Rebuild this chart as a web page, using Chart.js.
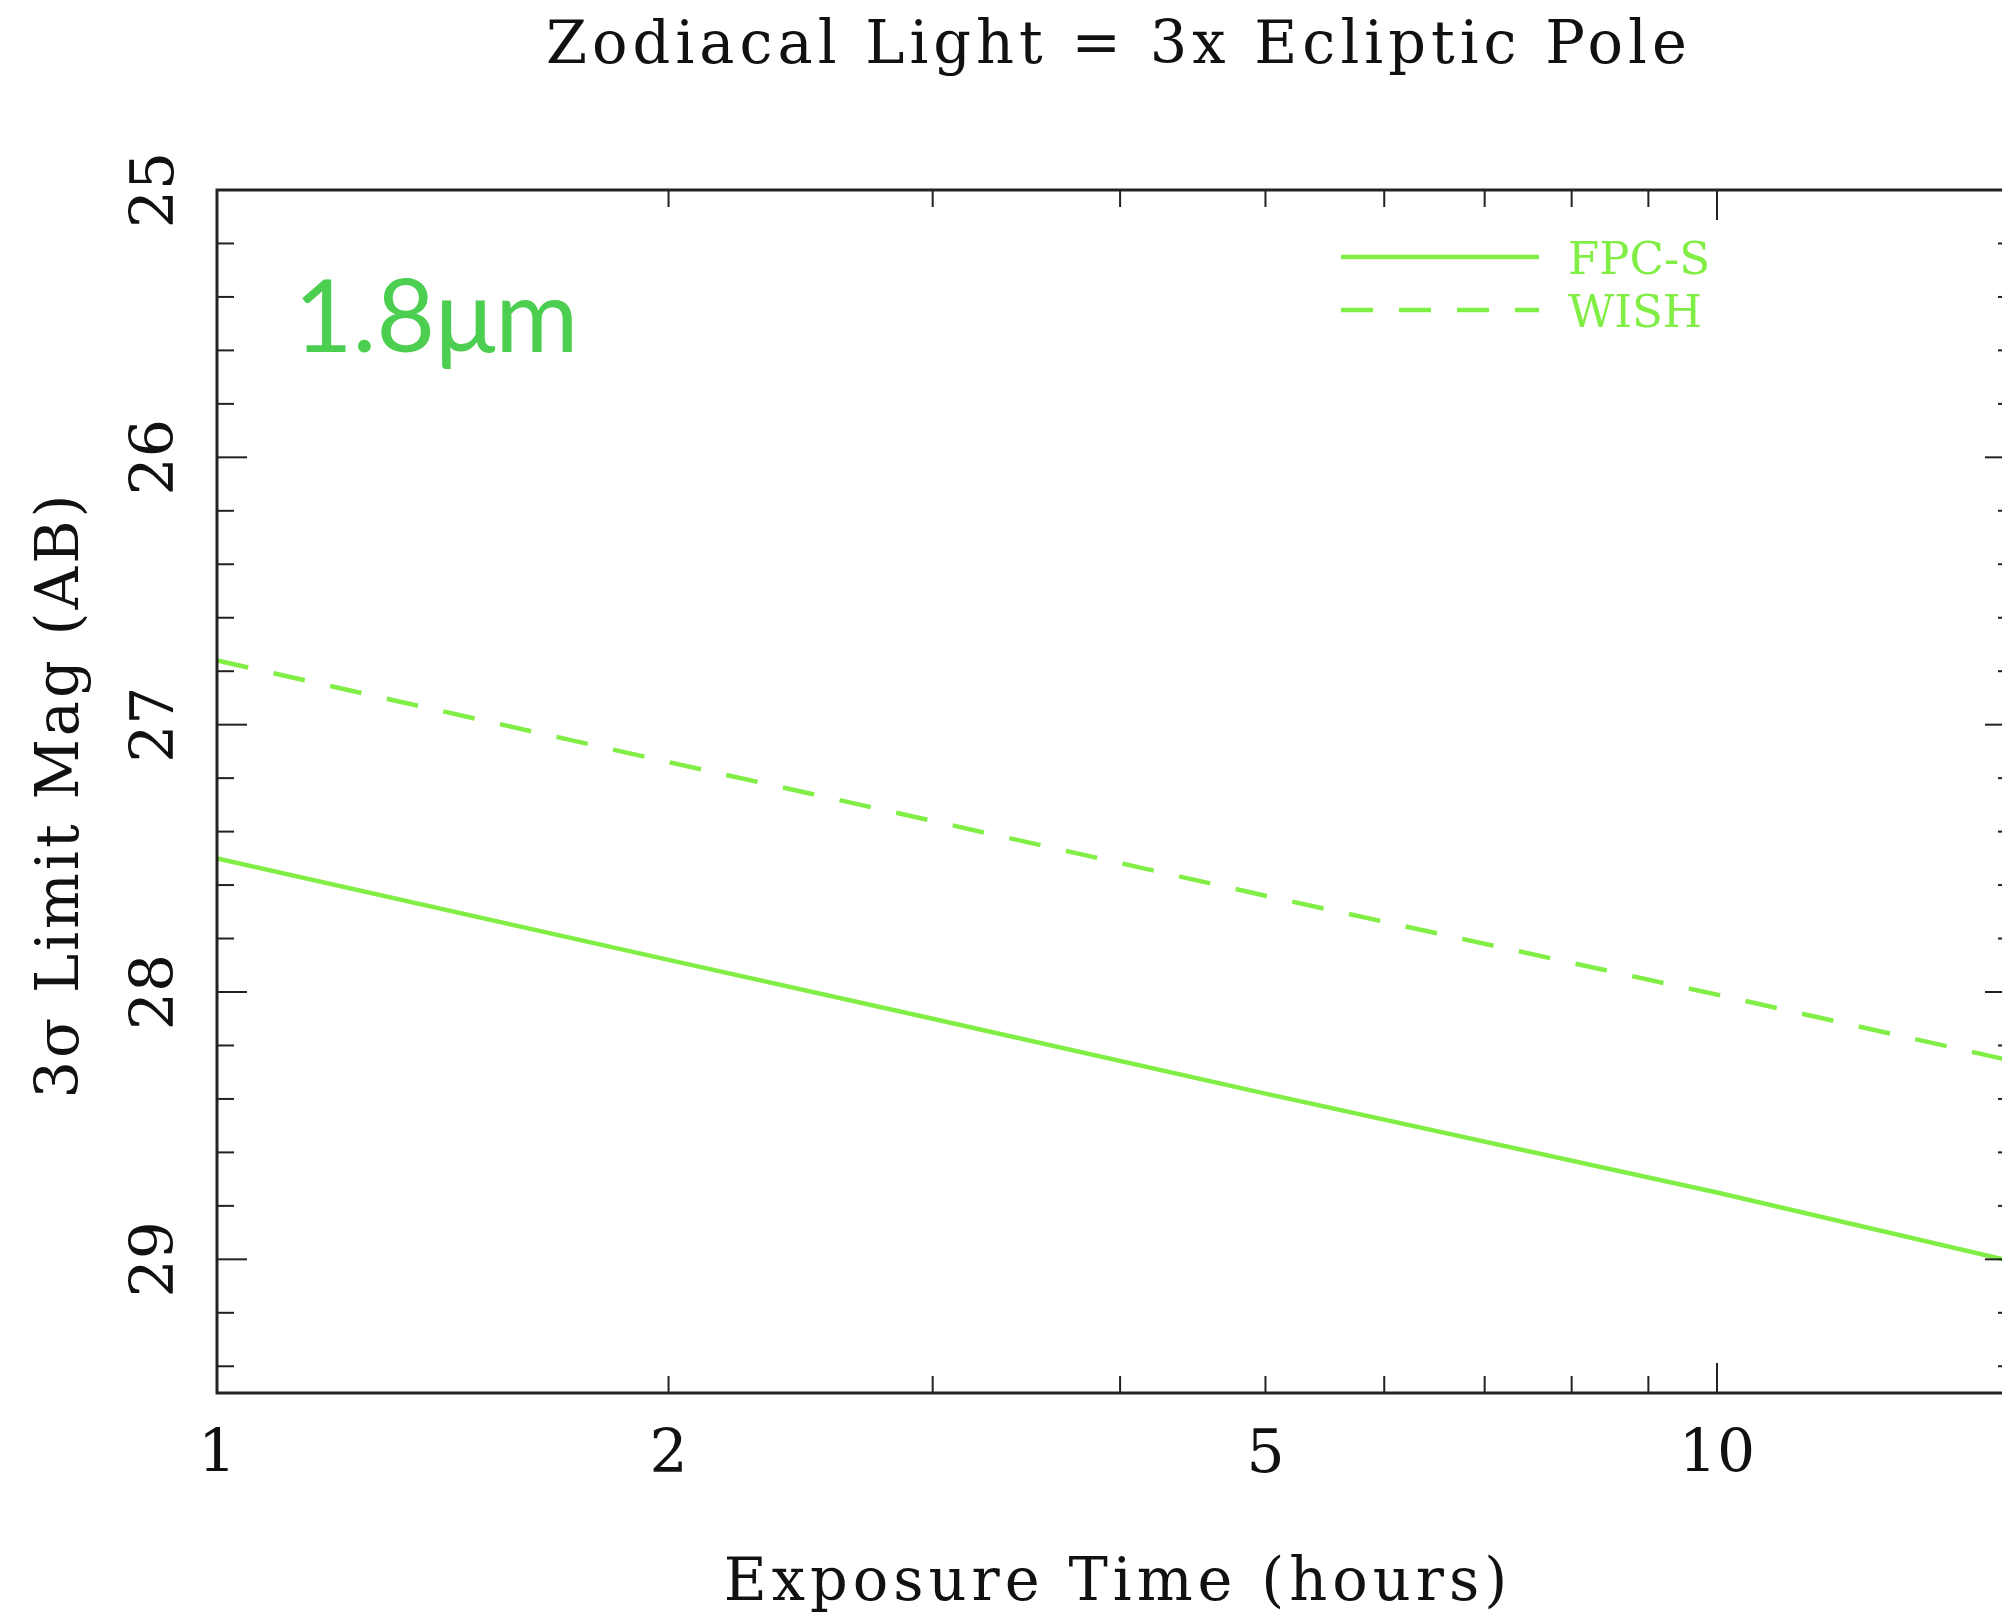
<!DOCTYPE html>
<html>
<head>
<meta charset="utf-8">
<script src="https://cdn.jsdelivr.net/npm/chart.js@4.4.0/dist/chart.umd.min.js"></script>
<style>
  html, body { margin: 0; padding: 0; background: #fff; overflow: hidden; }
  canvas { display: block; }
</style>
</head>
<body>
<canvas id="chart" width="2015" height="1613"></canvas>
<script>
// exposure time (hours) and 3-sigma limiting magnitudes
const hours = [1, 2, 3, 5, 10, 15.8];
const fpcS = [27.50, 27.88, 28.10, 28.38, 28.75, 29.01];
const wish = [26.76, 27.14, 27.36, 27.64, 28.01, 28.26];

const xLabelTicks = [1, 2, 5, 10];
const xMajorTicks = [1, 10];
const xMinorTicks = [2, 3, 4, 5, 6, 7, 8, 9];
const yLabelTicks = [25, 26, 27, 28, 29];
const yMinorTicks = [25.2, 25.4, 25.6, 25.8, 26.2, 26.4, 26.6, 26.8, 27.2, 27.4, 27.6, 27.8,
                     28.2, 28.4, 28.6, 28.8, 29.2, 29.4];

const lineGreen = "#80ee44";
const labelGreen = "#4ccf50";
const serif = "'DejaVu Serif', 'Liberation Serif', serif";

function pts(ys) {
    return hours.map((h, i) => ({ x: h, y: ys[i] }));
}

const framePlugin = {
    id: "frame",
    afterDraw: function (chart) {
        const ctx = chart.ctx;
        const a = chart.chartArea;
        const xs = chart.scales.x;
        const ys = chart.scales.y;
        ctx.save();

        // ticks
        ctx.strokeStyle = "#222";
        ctx.lineWidth = 2;
        const tick = (x1, y1, x2, y2) => {
            ctx.beginPath();
            ctx.moveTo(x1, y1);
            ctx.lineTo(x2, y2);
            ctx.stroke();
        };
        xMajorTicks.forEach((v) => {
            const px = xs.getPixelForValue(v);
            tick(px, a.top, px, a.top + 30);
            tick(px, a.bottom, px, a.bottom - 30);
        });
        xMinorTicks.forEach((v) => {
            const px = xs.getPixelForValue(v);
            tick(px, a.top, px, a.top + 17);
            tick(px, a.bottom, px, a.bottom - 17);
        });
        yLabelTicks.forEach((v) => {
            const py = ys.getPixelForValue(v);
            tick(a.left, py, a.left + 30, py);
            tick(a.right, py, a.right - 30, py);
        });
        yMinorTicks.forEach((v) => {
            const py = ys.getPixelForValue(v);
            tick(a.left, py, a.left + 17, py);
            tick(a.right, py, a.right - 17, py);
        });

        // frame
        ctx.lineWidth = 3;
        ctx.strokeRect(a.left, a.top, a.right - a.left, a.bottom - a.top);

        // tick labels
        ctx.fillStyle = "#111";
        ctx.font = "60px " + serif;
        ctx.textAlign = "center";
        ctx.textBaseline = "alphabetic";
        xLabelTicks.forEach((v) => {
            ctx.fillText(String(v), xs.getPixelForValue(v), 1472);
        });
        yLabelTicks.forEach((v) => {
            ctx.save();
            ctx.translate(173, ys.getPixelForValue(v));
            ctx.rotate(-Math.PI / 2);
            ctx.fillText(String(v), 0, 0);
            ctx.restore();
        });

        // titles
        ctx.font = "59px " + serif;
        ctx.letterSpacing = "5px";
        ctx.fillText("Zodiacal Light = 3x Ecliptic Pole", 1119, 63);
        ctx.fillText("Exposure Time (hours)", 1118, 1600);
        ctx.letterSpacing = "3px";
        ctx.save();
        ctx.translate(78, 795);
        ctx.rotate(-Math.PI / 2);
        ctx.fillText("3\u03c3 Limit Mag (AB)", 0, 0);
        ctx.restore();
        ctx.letterSpacing = "0px";

        // legend
        ctx.strokeStyle = lineGreen;
        ctx.lineWidth = 4.5;
        ctx.beginPath();
        ctx.moveTo(1341, 257);
        ctx.lineTo(1539, 257);
        ctx.stroke();
        ctx.setLineDash([32, 26]);
        ctx.beginPath();
        ctx.moveTo(1341, 310);
        ctx.lineTo(1539, 310);
        ctx.stroke();
        ctx.setLineDash([]);
        ctx.fillStyle = lineGreen;
        ctx.textAlign = "left";
        ctx.font = "45px " + serif;
        ctx.fillText("FPC-S", 1568, 274);
        ctx.fillText("WISH", 1568, 327);

        // wavelength label
        ctx.fillStyle = labelGreen;
        ctx.font = "101px Lato, 'Noto Sans', sans-serif";
        ctx.fillText("1.8\u03bcm", 294, 352);

        ctx.restore();
    },
};

new Chart(document.getElementById("chart"), {
    type: "line",
    data: {
        datasets: [
            {
                label: "FPC-S",
                data: pts(fpcS),
                borderColor: lineGreen,
                borderWidth: 4.5,
                pointRadius: 0,
                tension: 0,
            },
            {
                label: "WISH",
                data: pts(wish),
                borderColor: lineGreen,
                borderWidth: 4.5,
                borderDash: [32, 26],
                pointRadius: 0,
                tension: 0,
            },
        ],
    },
    options: {
        responsive: false,
        animation: false,
        devicePixelRatio: 1,
        layout: { padding: { left: 217, top: 190, right: 0, bottom: 220 } },
        plugins: { legend: { display: false }, tooltip: { enabled: false } },
        scales: {
            x: { type: "logarithmic", min: 1, max: 15.8, display: false },
            y: { type: "linear", min: 25, max: 29.5, reverse: true, display: false },
        },
    },
    plugins: [framePlugin],
});
</script>
</body>
</html>
